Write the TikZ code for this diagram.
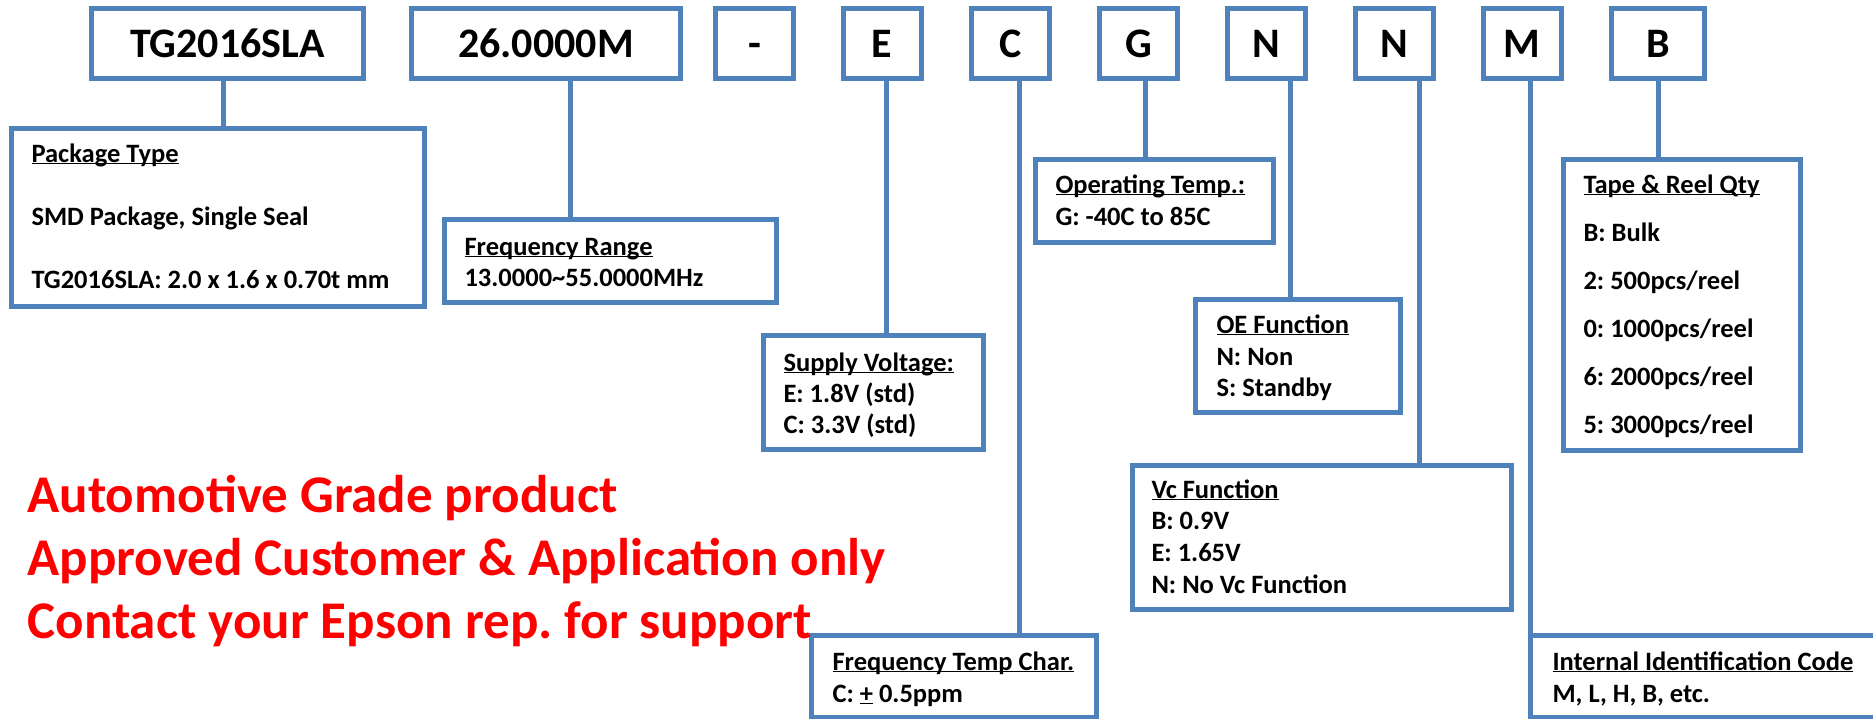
\documentclass[tikz,border=0pt]{standalone}
\usepackage{fontspec}
\setmainfont{Carlito}
\usepackage{tikz}
\definecolor{boxblue}{HTML}{4F81BD}
\newcommand\codefont{\fontsize{42}{48}\selectfont\bfseries}
\newcommand\boxfont{\fontsize{26.5}{30}\selectfont\bfseries}
\newcommand\notefont{\fontsize{53}{60}\selectfont\bfseries}
\newcommand\head[1]{\underline{\smash{#1}}}
\frenchspacing

\begin{document}
\begin{tikzpicture}[x=1pt, y=-1pt, line width=5pt]
    \tikzstyle{code}=[draw=boxblue, rectangle, minimum height=70pt, minimum width=78pt, inner sep=0pt, text height=27pt, text depth=0pt, font=\codefont]
    \tikzstyle{infobox}=[draw=boxblue, rectangle, inner sep=0pt]
    \tikzstyle{txt}=[anchor=base west, inner sep=0pt, font=\boxfont]
    \tikzstyle{note}=[anchor=base west, inner sep=0pt, font=\notefont, text=red]
    \tikzstyle{link}=[draw=boxblue]

    \useasboundingbox (0,0) rectangle (1873,718);

    % Draw the part number fields
    \node[code, minimum width=272pt] (TG) at (227.5,43.5) {TG2016SLA};
    \node[code, minimum width=269pt] (F) at (546,43.5) {26.0000M};
    \node[code] (D) at (754.5,43.5) {-};
    \node[code] (E) at (882,43.5) {E};
    \node[code] (C) at (1010.5,43.5) {C};
    \node[code] (G) at (1138.5,43.5) {G};
    \node[code] (N-1) at (1266.5,43.5) {N};
    \node[code] (N-2) at (1394,43.5) {N};
    \node[code] (M) at (1522,43.5) {M};
    \node[code, minimum width=93pt] (B) at (1658,43.5) {B};

    % Draw the description boxes
    \node[infobox, minimum width=413pt, minimum height=178pt] (pkg) at (218,217.5) {};
    \node[infobox, minimum width=332pt, minimum height=83pt] (range) at (610.5,261) {};
    \node[infobox, minimum width=220pt, minimum height=114pt] (supply) at (873.5,392.5) {};
    \node[infobox, minimum width=285pt, minimum height=82pt] (ftc) at (954,676.5) {};
    \node[infobox, minimum width=238pt, minimum height=83pt] (optemp) at (1154.5,201) {};
    \node[infobox, minimum width=205pt, minimum height=113pt] (oe) at (1298,356) {};
    \node[infobox, minimum width=379pt, minimum height=144pt] (vc) at (1322,537.5) {};
    \node[infobox, minimum width=350pt, minimum height=82pt] (iic) at (1705.5,676.5) {};
    \node[infobox, minimum width=237pt, minimum height=291pt] (tr) at (1682,305) {};

    % Connect fields to boxes
    \draw[link] ([xshift=-4.5pt]TG.south) -- ([xshift=-4.5pt]TG.south |- pkg.north);
    \draw[link] ([xshift=24pt]F.south) -- ([xshift=24pt]F.south |- range.north);
    \draw[link] ([xshift=4pt]E.south) -- ([xshift=4pt]E.south |- supply.north);
    \draw[link] ([xshift=8.5pt]C.south) -- ([xshift=8.5pt]C.south |- ftc.north);
    \draw[link] ([xshift=6.5pt]G.south) -- ([xshift=6.5pt]G.south |- optemp.north);
    \draw[link] ([xshift=23.5pt]N-1.south) -- ([xshift=23.5pt]N-1.south |- oe.north);
    \draw[link] ([xshift=25pt]N-2.south) -- ([xshift=25pt]N-2.south |- vc.north);
    \draw[link] ([xshift=8.5pt]M.south) -- ([xshift=8.5pt]M.south |- iic.north);
    \draw[link] (B.south) -- (B.south |- tr.north);

    % Box texts
    \node[txt] (pkg-1) at (29,162) {\head{Package Type}};
    \node[txt] (pkg-2) at (29,225) {SMD Package, Single Seal};
    \node[txt] (pkg-3) at (29,288) {TG2016SLA: 2.0 x 1.6 x 0.70t mm};
    \node[txt] (range-1) at (462,255) {\head{Frequency Range}};
    \node[txt] (range-2) at (462,286) {13.0000\textasciitilde55.0000MHz};
    \node[txt] (supply-1) at (781,371) {\head{Supply Voltage:}};
    \node[txt] (supply-2) at (781,402) {E: 1.8V (std)};
    \node[txt] (supply-3) at (781,433) {C: 3.3V (std)};
    \node[txt] (ftc-1) at (830,670) {\head{Frequency Temp Char.}};
    \node[txt] (ftc-2) at (830,702) {C: \underline{+} 0.5ppm};
    \node[txt] (optemp-1) at (1053,193) {\head{Operating Temp.:}};
    \node[txt] (optemp-2) at (1053,225) {G: -40C to 85C};
    \node[txt] (oe-1) at (1214,333) {\head{OE Function}};
    \node[txt] (oe-2) at (1214,365) {N: Non};
    \node[txt] (oe-3) at (1214,396) {S: Standby};
    \node[txt] (vc-1) at (1149,498) {\head{Vc Function}};
    \node[txt] (vc-2) at (1149,529) {B: 0.9V};
    \node[txt] (vc-3) at (1149,561) {E: 1.65V};
    \node[txt] (vc-4) at (1149,593) {N: No Vc Function};
    \node[txt] (iic-1) at (1550,670) {\head{Internal Identification Code}};
    \node[txt] (iic-2) at (1550,702) {M, L, H, B, etc.};
    \node[txt] (tr-1) at (1581,193) {\head{Tape \& Reel Qty}};
    \node[txt] (tr-2) at (1581,241) {B: Bulk};
    \node[txt] (tr-3) at (1581,289) {2: 500pcs/reel};
    \node[txt] (tr-4) at (1581,337) {0: 1000pcs/reel};
    \node[txt] (tr-5) at (1581,385) {6: 2000pcs/reel};
    \node[txt] (tr-6) at (1581,433) {5: 3000pcs/reel};

    % Red notice
    \node[note] (note-1) at (25,512) {Automotive Grade product};
    \node[note] (note-2) at (25,575) {Approved Customer \& Application only};
    \node[note] (note-3) at (25,638) {Contact your Epson rep. for support};
\end{tikzpicture}
\end{document}
